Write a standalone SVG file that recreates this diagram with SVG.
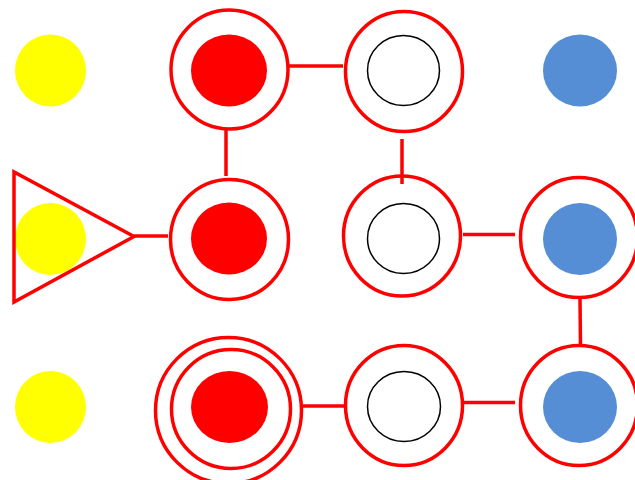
<svg xmlns="http://www.w3.org/2000/svg" width="635" height="480" viewBox="0 0 635 480">
<style>
.ring{fill:none;stroke:#FF0000;stroke-width:3.5}
.yel{fill:#FFFF00}
.red{fill:#FF0000}
.blu{fill:#558ED5}
.wht{fill:#FFFFFF;stroke:#000000;stroke-width:1.5}
.con{stroke:#FF0000;stroke-width:3.5;fill:none}
</style>
<rect width="635" height="480" fill="#FFFFFF"/>
<g id="yellow1"><ellipse class="yel" cx="50.5" cy="70.5" rx="35.5" ry="36"/></g>
<g id="yellow2"><ellipse class="yel" cx="50.5" cy="239" rx="35.5" ry="36"/></g>
<g id="yellow3"><ellipse class="yel" cx="50.5" cy="407" rx="35.5" ry="36"/></g>
<g id="triangle"><polygon class="ring" points="14,172 14,302 134,236.5"/></g>
<g id="n11"><ellipse class="ring" cx="229.5" cy="69.5" rx="58.5" ry="59.5"/><ellipse class="red" cx="229" cy="70.5" rx="38" ry="36"/></g>
<g id="n12"><ellipse class="ring" cx="404" cy="71.5" rx="58.5" ry="60"/><ellipse class="wht" cx="403.5" cy="70.5" rx="36" ry="35"/></g>
<g id="n13"><ellipse class="blu" cx="580" cy="70.5" rx="37" ry="36"/></g>
<g id="n21"><ellipse class="ring" cx="229.5" cy="239.5" rx="59" ry="60"/><ellipse class="red" cx="229" cy="238.5" rx="38" ry="36"/></g>
<g id="n22"><ellipse class="ring" cx="402" cy="236" rx="58.5" ry="60"/><ellipse class="wht" cx="403.5" cy="238.5" rx="36" ry="35"/></g>
<g id="n23"><ellipse class="ring" cx="579" cy="237.5" rx="58.5" ry="60"/><ellipse class="blu" cx="580" cy="239" rx="37" ry="36"/></g>
<g id="n31"><circle class="ring" cx="228.5" cy="410.5" r="73"/><ellipse class="ring" cx="231" cy="409" rx="59.5" ry="59.5"/><ellipse class="red" cx="229.5" cy="407" rx="38.5" ry="36"/></g>
<g id="n32"><ellipse class="ring" cx="404" cy="405.5" rx="58.5" ry="60"/><ellipse class="wht" cx="404" cy="406.5" rx="36.5" ry="35"/></g>
<g id="n33"><ellipse class="ring" cx="579" cy="405.5" rx="58.5" ry="60"/><ellipse class="blu" cx="580" cy="407" rx="37" ry="36"/></g>
<g id="connectors">
<line class="con" x1="289" y1="66" x2="343" y2="66"/>
<line class="con" x1="226" y1="130" x2="226" y2="176"/>
<line class="con" x1="402" y1="139" x2="402" y2="184"/>
<line class="con" x1="134" y1="236" x2="168" y2="236"/>
<line class="con" x1="463" y1="234.5" x2="515" y2="234.5"/>
<line class="con" x1="580" y1="298" x2="580.5" y2="346"/>
<line class="con" x1="302" y1="406" x2="346" y2="406"/>
<line class="con" x1="464" y1="402.5" x2="515" y2="402.5"/>
</g>
</svg>
